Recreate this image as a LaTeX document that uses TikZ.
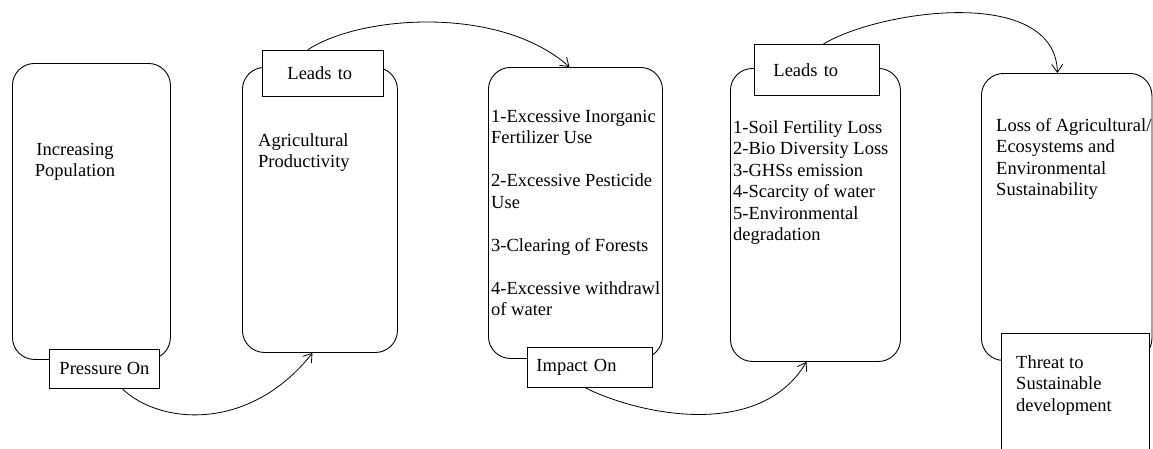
\documentclass[tikz,border=0pt]{standalone}
\usepackage{fontspec}
\newfontfamily\diagserif{Liberation Serif}
\usetikzlibrary{arrows.meta}
\begin{document}
\begin{tikzpicture}[x=1pt,y=-1pt,
  rbox/.style={draw, line width=0.9pt, rounded corners=22pt, inner sep=0pt, anchor=north west},
  lbox/.style={draw, line width=0.9pt, fill=white, inner sep=0pt, anchor=north west, font=\diagserif\fontsize{18.5}{21.5}\selectfont},
  txt/.style={inner sep=0pt, anchor=north west, align=left, font=\diagserif\fontsize{18.5}{21.5}\selectfont},
  conn/.style={line width=0.8pt, -{Straight Barb[length=8pt,width=11pt]}}]
\useasboundingbox (0,0) rectangle (1153,448);
\clip (0,0) rectangle (1153,448);
% main rounded boxes
\node[rbox, minimum width=158pt, minimum height=296pt] (b1) at (12,63) {};
\node[rbox, minimum width=155pt, minimum height=285pt] (b2) at (242,67) {};
\node[rbox, minimum width=174pt, minimum height=291pt] (b3) at (488,67) {};
\node[rbox, minimum width=170pt, minimum height=293pt] (b4) at (730,68) {};
\node[rbox, minimum width=170.5pt, minimum height=287pt] (b5) at (981,73) {};
% label boxes
\node[lbox, minimum width=110pt, minimum height=39pt] (po) at (49,349) {Pressure On};
\node[lbox, minimum height=46pt, inner xsep=25pt, text width=71pt, align=left] (lt1) at (262,50) {Leads to};
\node[lbox, minimum height=40pt, inner xsep=9pt, text width=107pt, align=left] (io) at (527,347) {Impact On};
\node[lbox, minimum height=51pt, inner xsep=19pt, text width=87pt, align=left] (lt2) at (754,44) {Leads to};
\node[lbox, minimum width=148pt, minimum height=130pt] (th) at (1001,333) {};
% texts
\node[txt, anchor=north, align=center] (t1) at (75,143) {Increasing\\Population};
\node[txt] (t2) at (258,133) {Agricultural\\Productivity};
\node[txt] (t3) at (491,110) {1-Excessive Inorganic\\Fertilizer Use\\[21.5pt]2-Excessive Pesticide\\Use\\[21.5pt]3-Clearing of Forests\\[21.5pt]4-Excessive withdrawl\\of water};
\node[txt] (t4) at (733,120) {1-Soil Fertility Loss\\2-Bio Diversity Loss\\3-GHSs emission\\4-Scarcity of water\\5-Environmental\\degradation};
\node[txt] (t5) at (996,118) {Loss of Agricultural/\\Ecosystems and\\Environmental\\Sustainability};
\node[txt] (t6) at (1016,355) {Threat to\\Sustainable\\development};
% connectors
\draw[conn] ([xshift=18pt]po.south) .. controls (160,425) and (250,432) .. ([xshift=-7.5pt]b2.south);
\draw[conn] ([xshift=-15.5pt]lt1.north) .. controls (360,15) and (500,5) .. ([xshift=-6pt]b3.north);
\draw[conn] ([xshift=-4.5pt]io.south) .. controls (640,415) and (760,440) .. ([xshift=-9pt]b4.south);
\draw[conn] ([xshift=6.5pt]lt2.north) .. controls (880,10) and (1055,-15) .. ([xshift=-9.25pt]b5.north);
\end{tikzpicture}
\end{document}
